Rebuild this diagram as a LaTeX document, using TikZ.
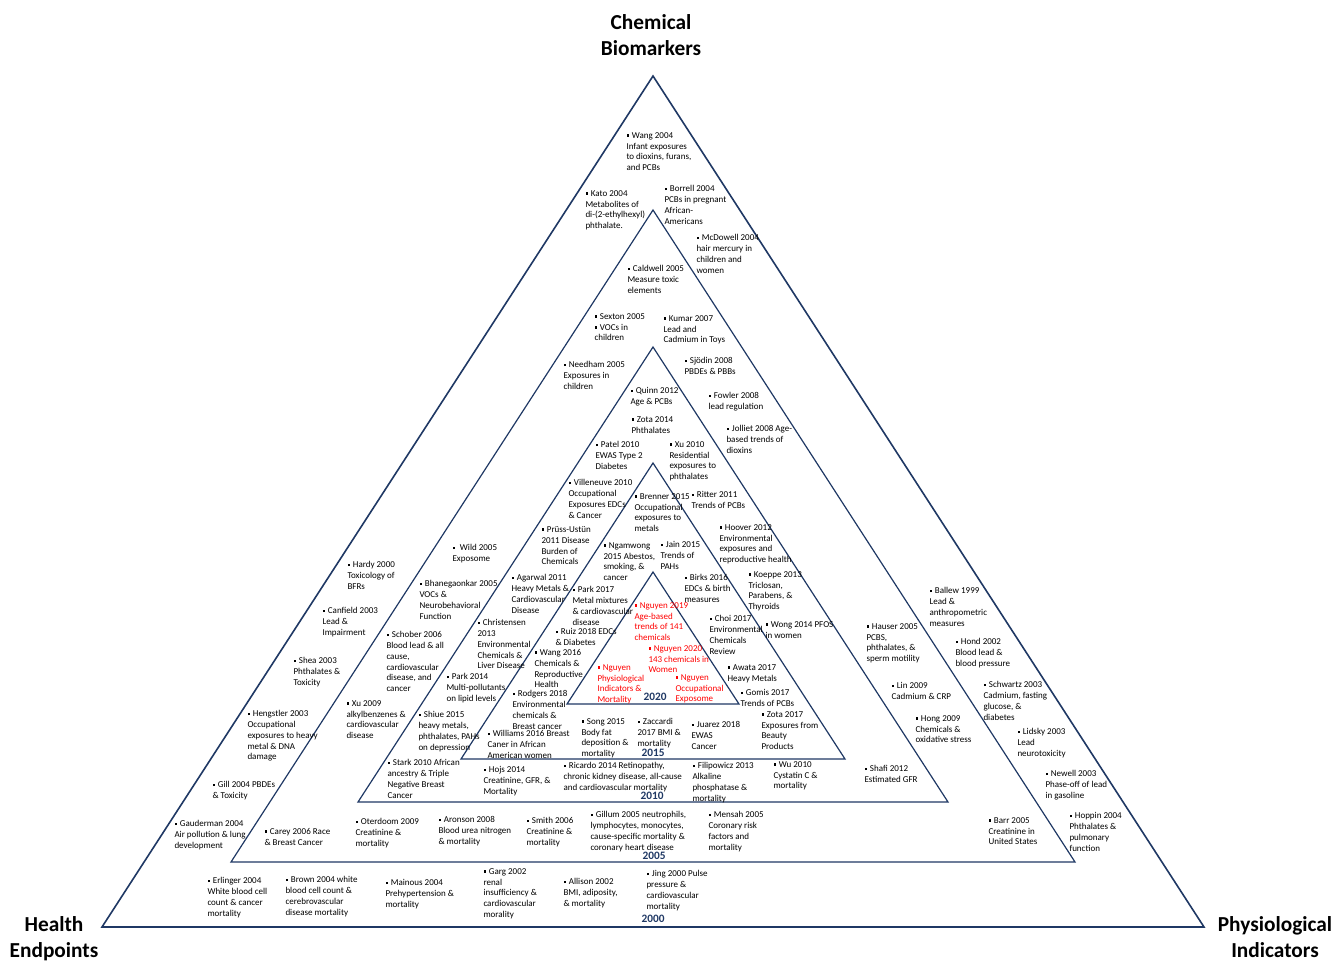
\documentclass[tikz,border=0pt]{standalone}
\usepackage{fontspec}
\setmainfont{Carlito}
\definecolor{navy}{RGB}{31,56,100}
\newcommand{\sqb}{\raisebox{0.18em}{\rule{0.28em}{0.28em}}\hspace{0.32em}}
\tikzset{every picture/.style={line width=0.75pt}}
\tikzset{
  lbl/.style={anchor=north west, align=left, inner sep=0pt, yshift=-1.5pt, font=\fontsize{6.75}{8.1}\selectfont},
  lblred/.style={lbl, text=red},
  yr/.style={inner sep=0pt, text=navy, font=\fontsize{8.5}{10}\selectfont\bfseries},
  ttl/.style={inner sep=0pt, align=center, font=\fontsize{16}{19.5}\selectfont\bfseries},
  tri/.style={draw=navy, line width=0.9pt, line join=miter},
}

\begin{document}
\begin{tikzpicture}[x=0.75pt,y=0.75pt,yscale=-1,xscale=1]
  \useasboundingbox (0,0) rectangle (1337,961);

  % nested triangles, outside in
  \draw [tri, line width=1.2pt] (653,76) -- (1204,927) -- (102,927) -- cycle ;
  \draw [tri] (653,210) -- (1075,862) -- (231,862) -- cycle ;
  \draw [tri] (653,347) -- (948,802) -- (358,802) -- cycle ;
  \draw [tri] (653,463) -- (845,759) -- (461,759) -- cycle ;
  \draw [tri] (653,572) -- (739,704) -- (567,704) -- cycle ;

  % corner titles
  \node [ttl, anchor=north] (chem) at (651,14) {Chemical\\Biomarkers};
  \node [ttl, anchor=north] (health) at (54,916) {Health\\Endpoints};
  \node [ttl, anchor=north] (phys) at (1275,916) {Physiological\\Indicators};

  % years
  \node [yr] (y2020) at (655,697) {2020};
  \node [yr] (y2015) at (653,753) {2015};
  \node [yr] (y2010) at (652,796) {2010};
  \node [yr] (y2005) at (654,856) {2005};
  \node [yr] (y2000) at (653,919) {2000};

  % top part
  \node [lbl] (wang04) at (626,130) {\sqb Wang 2004\\Infant exposures\\to dioxins, furans,\\and PCBs};
  \node [lbl] (kato04) at (585,188) {\sqb Kato 2004\\Metabolites of\\di-(2-ethylhexyl)\\phthalate.};
  \node [lbl] (borrell04) at (664,183) {\sqb Borrell 2004\\PCBs in pregnant\\African-\\Americans};
  \node [lbl] (mcdowell04) at (696,232) {\sqb McDowell 2004\\hair mercury in\\children and\\women};
  \node [lbl] (caldwell05) at (627,263) {\sqb Caldwell 2005\\Measure toxic\\elements};
  \node [lbl] (sexton05) at (594,311) {\sqb Sexton 2005\\\sqb VOCs in\\children};
  \node [lbl] (kumar07) at (663,313) {\sqb Kumar 2007\\Lead and\\Cadmium in Toys};
  \node [lbl] (needham05) at (563,359) {\sqb Needham 2005\\Exposures in\\children};
  \node [lbl] (sjodin08) at (684,355) {\sqb Sjödin 2008\\PBDEs \& PBBs};
  \node [lbl] (quinn12) at (630,385) {\sqb Quinn 2012\\Age \& PCBs};
  \node [lbl] (fowler08) at (708,390) {\sqb Fowler 2008\\lead regulation};
  \node [lbl] (zota14) at (631,414) {\sqb Zota 2014\\Phthalates};
  \node [lbl] (jolliet08) at (726,423) {\sqb Jolliet 2008 Age-\\based trends of\\dioxins};
  \node [lbl] (patel10) at (595,439) {\sqb Patel 2010\\EWAS Type 2\\Diabetes};
  \node [lbl] (xu10) at (669,439) {\sqb Xu 2010\\Residential\\exposures to\\phthalates};
  \node [lbl] (villeneuve10) at (568,477) {\sqb Villeneuve 2010\\Occupational\\Exposures EDCs\\\& Cancer};
  \node [lbl] (brenner15) at (634,491) {\sqb Brenner 2015\\Occupational\\exposures to\\metals};
  \node [lbl] (ritter11) at (691,489) {\sqb Ritter 2011\\Trends of PCBs};
  \node [lbl] (pruss11) at (541,524) {\sqb Prüss-Ustün\\2011 Disease\\Burden of\\Chemicals};
  \node [lbl] (hoover12) at (719,522) {\sqb Hoover 2012\\Environmental\\exposures and\\reproductive health};
  \node [lbl] (ngamwong15) at (603,540) {\sqb Ngamwong\\2015 Abestos,\\smoking, \&\\cancer};
  \node [lbl] (jain15) at (660,539) {\sqb Jain 2015\\Trends of\\PAHs};

  % middle band
  \node [lbl] (wild05) at (452,542) {\sqb\ Wild 2005\\Exposome};
  \node [lbl] (hardy00) at (347,559) {\sqb Hardy 2000\\Toxicology of\\BFRs};
  \node [lbl] (bhane05) at (419,578) {\sqb Bhanegaonkar 2005\\VOCs \&\\Neurobehavioral\\Function};
  \node [lbl] (agarwal11) at (511,572) {\sqb Agarwal 2011\\Heavy Metals \&\\Cardiovascular\\Disease};
  \node [lbl] (park17) at (572,584) {\sqb Park 2017\\Metal mixtures\\\& cardiovascular\\disease};
  \node [lbl] (birks16) at (684,572) {\sqb Birks 2016\\EDCs \& birth\\measures};
  \node [lbl] (koeppe13) at (748,569) {\sqb Koeppe 2013\\Triclosan,\\Parabens, \&\\Thyroids};
  \node [lbl] (ballew99) at (929,585) {\sqb Ballew 1999\\Lead \&\\anthropometric\\measures};
  \node [lbl] (canfield03) at (322,605) {\sqb Canfield 2003\\Lead \&\\Impairment};
  \node [lblred] (nguyen19) at (634,600) {\sqb Nguyen 2019\\Age-based\\trends of 141\\chemicals};
  \node [lbl] (christensen13) at (477,617) {\sqb Christensen\\2013\\Environmental\\Chemicals \&\\Liver Disease};
  \node [lbl] (choi17) at (709,613) {\sqb Choi 2017\\Environmental\\Chemicals\\Review};
  \node [lbl] (wong14) at (765,619) {\sqb Wong 2014 PFOS\\in women};
  \node [lbl] (hauser05) at (866,621) {\sqb Hauser 2005\\PCBS,\\phthalates, \&\\sperm motility};
  \node [lbl] (schober06) at (386,629) {\sqb Schober 2006\\Blood lead \& all\\cause,\\cardiovascular\\disease, and\\cancer};
  \node [lbl] (ruiz18) at (555,626) {\sqb Ruiz 2018 EDCs\\\& Diabetes};
  \node [lbl] (hond02) at (955,636) {\sqb Hond 2002\\Blood lead \&\\blood pressure};
  \node [lblred] (nguyen20) at (648,643) {\sqb Nguyen 2020\\143 chemicals in\\Women};
  \node [lbl] (wang16) at (534,647) {\sqb Wang 2016\\Chemicals \&\\Reproductive\\Health};
  \node [lbl] (shea03) at (293,655) {\sqb Shea 2003\\Phthalates \&\\Toxicity};
  \node [lblred] (nguyenphys) at (597,662) {\sqb Nguyen\\Physiological\\Indicators \&\\Mortality};
  \node [lblred] (nguyenocc) at (675,672) {\sqb Nguyen\\Occupational\\Exposome};
  \node [lbl] (awata17) at (727,662) {\sqb Awata 2017\\Heavy Metals};
  \node [lbl] (park14) at (446,671) {\sqb Park 2014\\Multi-pollutants\\on lipid levels};
  \node [lbl] (lin09) at (891,680) {\sqb Lin 2009\\Cadmium \& CRP};
  \node [lbl] (schwartz03) at (983,679) {\sqb Schwartz 2003\\Cadmium, fasting\\glucose, \&\\diabetes};
  \node [lbl] (rodgers18) at (512,688) {\sqb Rodgers 2018\\Environmental\\chemicals \&\\Breast cancer};
  \node [lbl] (gomis17) at (740,687) {\sqb Gomis 2017\\Trends of PCBs};
  \node [lbl] (xu09) at (346,698) {\sqb Xu 2009\\alkylbenzenes \&\\cardiovascular\\disease};
  \node [lbl] (hengstler03) at (247,708) {\sqb Hengstler 2003\\Occupational\\exposures to heavy\\metal \& DNA\\damage};
  \node [lbl] (shiue15) at (418,709) {\sqb Shiue 2015\\heavy metals,\\phthalates, PAHs\\on depression};
  \node [lbl] (zota17) at (761,709) {\sqb Zota 2017\\Exposures from\\Beauty\\Products};
  \node [lbl] (hong09) at (915,713) {\sqb Hong 2009\\Chemicals \&\\oxidative stress};
  \node [lbl] (song15) at (581,716) {\sqb Song 2015\\Body fat\\deposition \&\\mortality};
  \node [lbl] (zaccardi17) at (637,716) {\sqb Zaccardi\\2017 BMI \&\\mortality};
  \node [lbl] (juarez18) at (691,719) {\sqb Juarez 2018\\EWAS\\Cancer};
  \node [lbl] (lidsky03) at (1017,726) {\sqb Lidsky 2003\\Lead\\neurotoxicity};
  \node [lbl] (williams16) at (487,728) {\sqb Williams 2016 Breast\\Caner in African\\American women};

  % lower bands
  \node [lbl] (stark10) at (387,757) {\sqb Stark 2010 African\\ancestry \& Triple\\Negative Breast\\Cancer};
  \node [lbl] (ricardo14) at (563,760) {\sqb Ricardo 2014 Retinopathy,\\chronic kidney disease, all-cause\\and cardiovascular mortality};
  \node [lbl] (filipowicz13) at (692,760) {\sqb Filipowicz 2013\\Alkaline\\phosphatase \&\\mortality};
  \node [lbl] (wu10) at (773,759) {\sqb Wu 2010\\Cystatin C \&\\mortality};
  \node [lbl] (hojs14) at (483,764) {\sqb Hojs 2014\\Creatinine, GFR, \&\\Mortality};
  \node [lbl] (shafi12) at (864,763) {\sqb Shafi 2012\\Estimated GFR};
  \node [lbl] (newell03) at (1045,768) {\sqb Newell 2003\\Phase-off of lead\\in gasoline};
  \node [lbl] (gill04) at (212,779) {\sqb Gill 2004 PBDEs\\\& Toxicity};
  \node [lbl] (mensah05) at (708,809) {\sqb Mensah 2005\\Coronary risk\\factors and\\mortality};
  \node [lbl] (gillum05) at (590,809) {\sqb Gillum 2005 neutrophils,\\lymphocytes, monocytes,\\cause-specific mortality \&\\coronary heart disease};
  \node [lbl] (aronson08) at (438,814) {\sqb Aronson 2008\\Blood urea nitrogen\\\& mortality};
  \node [lbl] (smith06) at (526,815) {\sqb Smith 2006\\Creatinine \&\\mortality};
  \node [lbl] (oterdoom09) at (355,816) {\sqb Oterdoom 2009\\Creatinine \&\\mortality};
  \node [lbl] (gauderman04) at (174,818) {\sqb Gauderman 2004\\Air pollution \& lung\\development};
  \node [lbl] (carey06) at (264,826) {\sqb Carey 2006 Race\\\& Breast Cancer};
  \node [lbl] (barr05) at (988,815) {\sqb Barr 2005\\Creatinine in\\United States};
  \node [lbl] (hoppin04) at (1069,810) {\sqb Hoppin 2004\\Phthalates \&\\pulmonary\\function};
  \node [lbl] (garg02) at (483,866) {\sqb Garg 2002\\renal\\insufficiency \&\\cardiovascular\\morality};
  \node [lbl] (jing00) at (646,868) {\sqb Jing 2000 Pulse\\pressure \&\\cardiovascular\\mortality};
  \node [lbl] (erlinger04) at (207,875) {\sqb Erlinger 2004\\White blood cell\\count \& cancer\\mortality};
  \node [lbl] (brown04) at (285,874) {\sqb Brown 2004 white\\blood cell count \&\\cerebrovascular\\disease mortality};
  \node [lbl] (mainous04) at (385,877) {\sqb Mainous 2004\\Prehypertension \&\\mortality};
  \node [lbl] (allison02) at (563,876) {\sqb Allison 2002\\BMI, adiposity,\\\& mortality};

\end{tikzpicture}
\end{document}
